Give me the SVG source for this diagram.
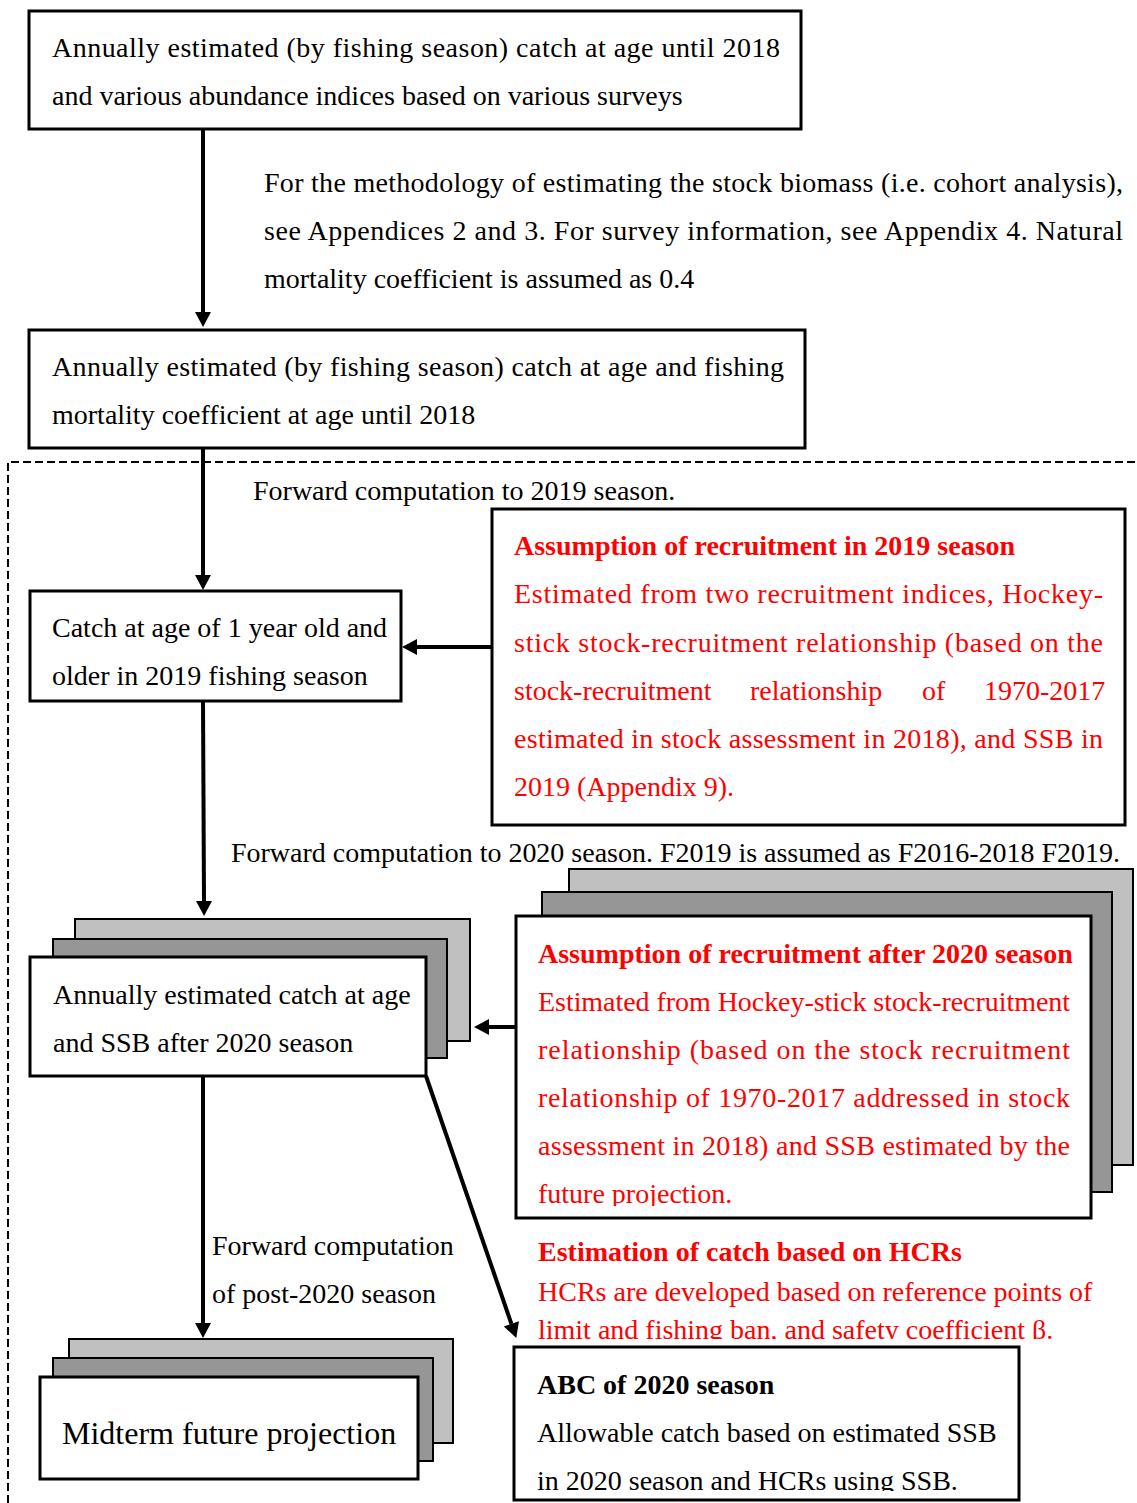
<svg xmlns="http://www.w3.org/2000/svg" width="1137" height="1503" viewBox="0 0 1137 1503">
<style>
text{font-family:"Liberation Serif","Times New Roman",serif;font-size:28px;fill:#000}
.red{fill:#ff0000}
.b{font-weight:bold}
.box{fill:#fff;stroke:#000;stroke-width:3}
.lg{fill:#c0c0c0;stroke:#000;stroke-width:2}
.dg{fill:#969696;stroke:#000;stroke-width:2}
.conn{stroke:#000;stroke-width:4;fill:none}
</style>
<defs>
<marker id="ah" markerUnits="userSpaceOnUse" markerWidth="16" markerHeight="17" refX="0" refY="8" orient="auto" overflow="visible">
<path d="M0,0 L15,8 L0,16 z" fill="#000"/>
</marker>
<clipPath id="clipB"><rect x="500" y="900" width="600" height="306"/></clipPath>
<clipPath id="clipH"><rect x="520" y="1220" width="617" height="119"/></clipPath>
<clipPath id="clipA"><rect x="516" y="1349" width="502" height="142"/></clipPath>
</defs>
<rect width="1137" height="1503" fill="#fff"/>

<path d="M8 1503 V462 H1137" fill="none" stroke="#000" stroke-width="2" stroke-dasharray="8,4"/>

<g id="connectors">
<line class="conn" x1="203" y1="129" x2="203" y2="312" marker-end="url(#ah)"/>
<line class="conn" x1="203" y1="448" x2="203" y2="575" marker-end="url(#ah)"/>
<line class="conn" x1="203" y1="701" x2="204" y2="901" marker-end="url(#ah)"/>
<line class="conn" x1="492" y1="647" x2="417" y2="647" marker-end="url(#ah)"/>
<line class="conn" x1="516" y1="1027" x2="489" y2="1027" marker-end="url(#ah)"/>
<line class="conn" x1="203" y1="1076" x2="203" y2="1323" marker-end="url(#ah)"/>
<line class="conn" x1="426" y1="1076" x2="511.4" y2="1323.8" marker-end="url(#ah)"/>
</g>

<g id="node-input">
<rect class="box" x="29" y="11" width="772" height="118"/>
<text x="52" y="57" textLength="728" lengthAdjust="spacing">Annually estimated (by fishing season) catch at age until 2018</text>
<text x="52" y="105">and various abundance indices based on various surveys</text>
</g>

<g id="label-method">
<text x="264" y="192" textLength="859" lengthAdjust="spacing">For the methodology of estimating the stock biomass (i.e. cohort analysis),</text>
<text x="264" y="240" textLength="859" lengthAdjust="spacing">see Appendices 2 and 3. For survey information, see Appendix 4. Natural</text>
<text x="264" y="288">mortality coefficient is assumed as 0.4</text>
</g>

<g id="node-fishing-mortality">
<rect class="box" x="29" y="330" width="776" height="118"/>
<text x="52" y="376" textLength="732" lengthAdjust="spacing">Annually estimated (by fishing season) catch at age and fishing</text>
<text x="52" y="424">mortality coefficient at age until 2018</text>
</g>

<g id="label-forward-2019">
<text x="253" y="500">Forward computation to 2019 season.</text>
</g>

<g id="node-catch-2019">
<rect class="box" x="30" y="591" width="371" height="110"/>
<text x="52" y="637">Catch at age of 1 year old and</text>
<text x="52" y="685">older in 2019 fishing season</text>
</g>

<g id="node-recruit-2019">
<rect class="box" x="492" y="509" width="633" height="316"/>
<text class="red b" x="514" y="555">Assumption of recruitment in 2019 season</text>
<text class="red" x="514" y="603" textLength="589" lengthAdjust="spacing">Estimated from two recruitment indices, Hockey-</text>
<text class="red" x="514" y="652" textLength="589" lengthAdjust="spacing">stick stock-recruitment relationship (based on the</text>
<text class="red" y="700"><tspan x="514">stock-recruitment</tspan><tspan x="750">relationship</tspan><tspan x="922">of</tspan><tspan x="984">1970-2017</tspan></text>
<text class="red" x="514" y="748" textLength="589" lengthAdjust="spacing">estimated in stock assessment in 2018), and SSB in</text>
<text class="red" x="514" y="796">2019 (Appendix 9).</text>
</g>

<g id="label-forward-2020">
<text x="231" y="862" textLength="889" lengthAdjust="spacing">Forward computation to 2020 season. F2019 is assumed as F2016-2018 F2019.</text>
</g>

<g id="node-catch-after-2020">
<rect class="lg" x="75" y="919" width="395" height="122"/>
<rect class="dg" x="53" y="939" width="394" height="119"/>
<rect class="box" x="30" y="957" width="396" height="119"/>
<text x="53" y="1004">Annually estimated catch at age</text>
<text x="53" y="1052">and SSB after 2020 season</text>
</g>

<g id="node-recruit-after-2020">
<rect class="lg" x="569" y="869" width="564" height="296"/>
<rect class="dg" x="542" y="892" width="570" height="300"/>
<rect class="box" x="516" y="916" width="575" height="302"/>
<g clip-path="url(#clipB)">
<text class="red b" x="538" y="963">Assumption of recruitment after 2020 season</text>
<text class="red" x="538" y="1011" textLength="532" lengthAdjust="spacing">Estimated from Hockey-stick stock-recruitment</text>
<text class="red" x="538" y="1059" textLength="532" lengthAdjust="spacing">relationship (based on the stock recruitment</text>
<text class="red" x="538" y="1107" textLength="532" lengthAdjust="spacing">relationship of 1970-2017 addressed in stock</text>
<text class="red" x="538" y="1155" textLength="532" lengthAdjust="spacing">assessment in 2018) and SSB estimated by the</text>
<text class="red" x="538" y="1203">future projection.</text>
</g>
</g>

<g id="label-post-2020">
<text x="212" y="1255">Forward computation</text>
<text x="212" y="1303">of post-2020 season</text>
</g>

<g id="label-hcr">
<g clip-path="url(#clipH)">
<text class="red b" x="538" y="1261">Estimation of catch based on HCRs</text>
<text class="red" x="538" y="1301">HCRs are developed based on reference points of</text>
<text class="red" x="538" y="1339">limit and fishing ban, and safety coefficient β.</text>
</g>
</g>

<g id="node-midterm">
<rect class="lg" x="69" y="1339" width="384" height="104"/>
<rect class="dg" x="53" y="1358" width="380" height="103"/>
<rect class="box" x="40" y="1377" width="378" height="102"/>
<text x="62" y="1444" style="font-size:32px">Midterm future projection</text>
</g>

<g id="node-abc">
<rect class="box" x="514" y="1347" width="505" height="153"/>
<g clip-path="url(#clipA)">
<text class="b" x="537" y="1394">ABC of 2020 season</text>
<text x="537" y="1442">Allowable catch based on estimated SSB</text>
<text x="537" y="1490">in 2020 season and HCRs using SSB.</text>
</g>
</g>
</svg>
